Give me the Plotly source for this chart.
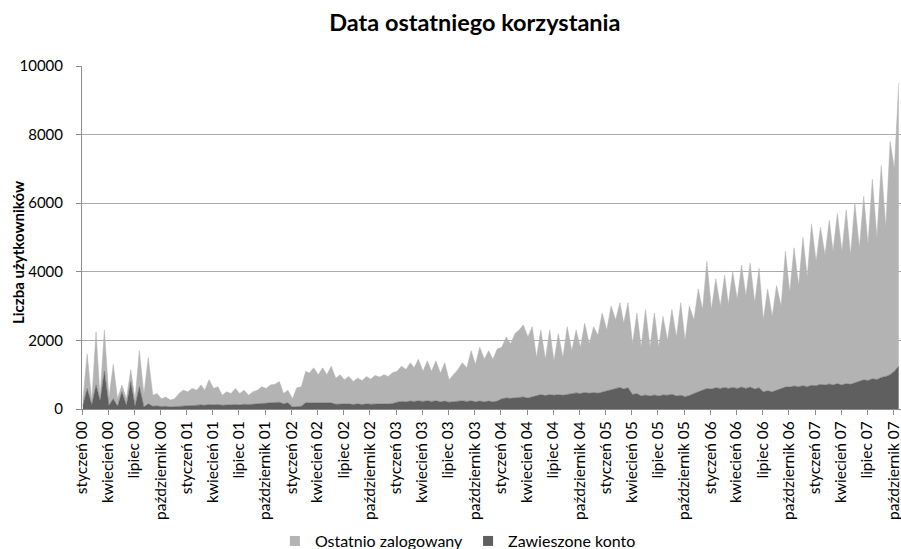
import pandas as pd
import plotly.graph_objects as go

# Monthly readings (Jan 2000 .. Oct 2007): two readings per month (body level, spike level)
ostatnio_body = [
    150, 130, 100, 230, 220, 200, 200, 360, 320, 230, 200, 370,      # 2000
    400, 440, 440, 480, 290, 330, 330, 270, 400, 430, 540, 300,      # 2001
    240, 570, 870, 820, 830, 760, 710, 670, 700, 730, 790, 800,      # 2002
    900, 940, 980, 880, 880, 840, 650, 930, 980, 1090, 1240, 1240,   # 2003
    1500, 1590, 1970, 1780, 1120, 1060, 1000, 1100, 1260, 1350, 1440, 1690,  # 2004
    1780, 2000, 1920, 1480, 1420, 1420, 1420, 1600, 1720, 1640, 2150, 2350,  # 2005
    2320, 2400, 2450, 2600, 2700, 2520, 2100, 2200, 2400, 2760, 2950, 3200,  # 2006
    3620, 3800, 3900, 3900, 3780, 3900, 3970, 4140, 4350, 5900,              # 2007
]
ostatnio_peak = [
    1000, 1550, 1200, 1000, 200, 350, 1050, 1350, 360, 270, 230, 460,
    490, 580, 720, 520, 380, 470, 410, 360, 480, 510, 600, 370,
    550, 920, 1010, 1010, 1070, 850, 800, 750, 800, 830, 850, 900,
    1030, 1120, 1210, 1160, 1160, 1120, 780, 1110, 1460, 1570, 1470, 1520,
    1780, 1870, 2100, 2050, 1880, 1880, 1780, 1970, 1830, 2020, 1920, 2310,
    2440, 2470, 2480, 2350, 2490, 2390, 2290, 2470, 2700, 2610, 3000, 3700,
    3180, 3270, 3370, 3560, 3610, 3480, 2970, 3060, 3960, 4030, 4320, 4710,
    4580, 4770, 4960, 5060, 5240, 5350, 5820, 6180, 6800, 8250,
]
zawieszone_body = [
    100, 120, 250, 100, 80, 100, 80, 60, 80, 70, 60, 80,
    100, 110, 110, 120, 110, 120, 120, 130, 150, 170, 180, 150,
    60, 80, 180, 180, 170, 140, 140, 130, 130, 140, 140, 150,
    200, 210, 220, 220, 220, 210, 200, 220, 220, 210, 210, 210,
    300, 310, 330, 320, 380, 390, 400, 400, 440, 450, 460, 460,
    520, 600, 580, 420, 380, 380, 380, 400, 380, 360, 450, 550,
    580, 600, 600, 600, 600, 580, 500, 500, 600, 640, 650, 650,
    680, 700, 700, 700, 720, 800, 830, 860, 950, 1100,
]
zawieszone_peak = [
    600, 700, 1100, 300, 500, 800, 650, 150, 90, 80, 70, 90,
    110, 120, 130, 130, 120, 130, 140, 140, 170, 190, 200, 180,
    70, 180, 190, 190, 180, 150, 150, 150, 150, 150, 150, 160,
    220, 230, 240, 240, 240, 230, 220, 240, 240, 230, 230, 230,
    320, 330, 350, 350, 420, 420, 420, 430, 470, 480, 480, 490,
    560, 630, 620, 450, 410, 410, 410, 430, 400, 390, 500, 600,
    620, 630, 630, 640, 640, 620, 530, 540, 640, 670, 680, 690,
    720, 730, 740, 740, 760, 850, 880, 920, 1000, 1250,
]

month_names = ["styczeń", "kwiecień", "lipiec", "październik"]
years = ["00", "01", "02", "03", "04", "05", "06", "07"]
series_names = ["Ostatnio zalogowany", "Zawieszone konto"]

months = pd.date_range("2000-01-01", periods=len(ostatnio_body), freq="MS")
x = []
ost = []
zaw = []
for i, m in enumerate(months):
    x += [m + pd.Timedelta(days=3), m + pd.Timedelta(days=18)]
    ost += [ostatnio_body[i], ostatnio_peak[i]]
    zaw += [zawieszone_body[i], zawieszone_peak[i]]

tickvals = pd.date_range("2000-01-01", "2007-10-01", freq="QS")
ticktext = [f"{month_names[(d.month - 1) // 3]} {years[d.year - 2000]}" for d in tickvals]

LIGHT = "#b3b3b3"
DARK = "#5f5f5f"
FONT = "Lato"

fig = go.Figure()
fig.add_trace(go.Scatter(
    x=x, y=zaw, name=series_names[1], mode="lines", stackgroup="one", showlegend=False,
    line=dict(width=0.5, color=DARK), fillcolor=DARK,
))
fig.add_trace(go.Scatter(
    x=x, y=ost, name=series_names[0], mode="lines", stackgroup="one", showlegend=False,
    line=dict(width=0.5, color=LIGHT), fillcolor=LIGHT,
))
# legend entries with square keys
for name, col in zip(series_names, [LIGHT, DARK]):
    fig.add_trace(go.Scatter(
        x=[None], y=[None], name=name, mode="markers",
        marker=dict(symbol="square", size=10, color=col),
    ))

fig.update_layout(
    width=901, height=549,
    margin=dict(l=82, r=0, t=66, b=140, autoexpand=False),
    paper_bgcolor="white", plot_bgcolor="white",
    font=dict(family=FONT, size=15, color="#000000"),
    title=dict(text="<b>Data ostatniego korzystania</b>", x=0.527, xanchor="center",
               y=1 - 23 / 549, yanchor="middle", font=dict(family=FONT, size=23.5, color="#000000")),
    showlegend=True,
    legend=dict(orientation="h", x=0.459, xanchor="center", y=-0.385, yanchor="middle",
                traceorder="normal",
                font=dict(family=FONT, size=16, color="#000000"),
                itemwidth=30, tracegroupgap=0),
    xaxis=dict(
        type="date", range=["2000-01-01", "2007-10-27"],
        tickvals=tickvals, ticktext=ticktext, tickangle=-90,
        showgrid=False, showline=True, linecolor="#8c8c8c", linewidth=1,
        ticks="outside", ticklen=5, tickcolor="#8c8c8c",
        ticklabeloverflow="allow",
        tickfont=dict(family=FONT, size=15.5, color="#000000"),
        automargin=False,
    ),
    yaxis=dict(
        range=[0, 10000], tickvals=[0, 2000, 4000, 6000, 8000, 10000], tickformat="d",
        showgrid=True, gridcolor="#ababab", gridwidth=1,
        showline=True, linecolor="#8c8c8c", linewidth=1,
        ticks="outside", ticklen=5, tickcolor="#8c8c8c",
        ticklabelstandoff=10,
        tickfont=dict(family=FONT, size=15, color="#000000"),
        zeroline=False, automargin=False,
    ),
    annotations=[dict(
        text="<b>Liczba użytkowników</b>", textangle=-90,
        xref="paper", yref="paper", x=(18 - 82) / 819, y=(409 - 253) / 343,
        xanchor="center", yanchor="middle", showarrow=False,
        font=dict(family=FONT, size=15, color="#000000"),
    )],
)

fig.write_html("out.html", post_script="document.body.style.margin='0';",
               config={"displayModeBar": False})
